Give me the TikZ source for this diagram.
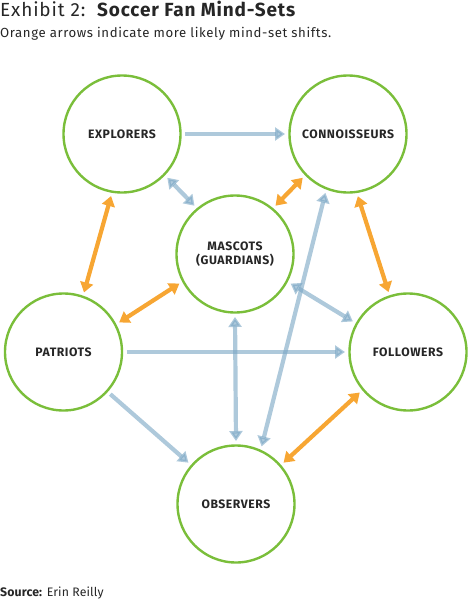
\documentclass[tikz,border=0pt]{standalone}
\usepackage{fontspec}
\setmainfont{Fira Sans}[LetterSpace=4.5]
\newfontfamily\srcfont{Fira Sans}[LetterSpace=1]
\usetikzlibrary{arrows.meta}
\definecolor{ringgreen}{RGB}{122,190,58}
\definecolor{arrblue}{RGB}{120,165,195}
\definecolor{arrorange}{RGB}{247,166,51}
\tikzset{
  mind/.style={circle, draw=ringgreen, line width=2.4pt, minimum size=117pt, inner sep=0pt, outer sep=4.5pt, font=\fontsize{12.2}{14.5}\selectfont\bfseries, text=black!85, align=center},
  bluearr/.style={draw=arrblue, draw opacity=0.6, fill opacity=0.6, line width=4.2pt, -{Triangle[length=10pt,width=13pt,fill=arrblue]}},
  bluedbl/.style={bluearr, {Triangle[length=10pt,width=13pt,fill=arrblue]}-{Triangle[length=10pt,width=13pt,fill=arrblue]}},
  orangedbl/.style={draw=arrorange, line width=4.2pt, {Triangle[length=10pt,width=13pt]}-{Triangle[length=10pt,width=13pt]}},
  titletext/.style={anchor=base west, inner sep=0pt, text=black!85}
}
\begin{document}
\begin{tikzpicture}[x=1pt,y=-1pt]
\useasboundingbox (0,0) rectangle (468,599);
\node[titletext, font=\fontsize{19}{22}\selectfont] (title) at (0,16.7) {Exhibit 2:\ \ \textbf{Soccer Fan Mind-Sets}};
\node[titletext, font=\fontsize{13.2}{16}\selectfont] (sub) at (0,37.7) {Orange arrows indicate more likely mind-set shifts.};
\node[titletext, font=\srcfont\fontsize{12.3}{15}\selectfont] (src) at (0,596.5) {\textbf{Source:} Erin Reilly};

\node[mind] (exp) at (122,134) {EXPLORERS};
\node[mind] (con) at (348,134) {CONNOISSEURS};
\node[mind] (mas) at (235,254) {MASCOTS\\(GUARDIANS)};
\node[mind] (pat) at (63.5,352) {PATRIOTS};
\node[mind] (fol) at (408,352) {FOLLOWERS};
\node[mind] (obs) at (236,504) {OBSERVERS};

% blue arrows
\draw[bluearr] (exp.0) -- (con.180);
\draw[bluedbl] (exp.316) -- (mas.130);
\draw[bluedbl] (mas.332) -- (fol.151);
\draw[bluearr] (pat.0) -- (fol.180);
\draw[bluearr] (pat.318) -- (obs.139.5);
\draw[bluedbl] (mas.270) -- (obs.90);
\draw[bluedbl] (obs.66) -- (con.249.5);

% orange arrows
\draw[orangedbl] (mas.50) -- (con.224);
\draw[orangedbl] (exp.260.5) -- (pat.71.3);
\draw[orangedbl] (con.279.5) -- (fol.108.7);
\draw[orangedbl] (pat.28) -- (mas.208.6);
\draw[orangedbl] (obs.41) -- (fol.220.5);
\end{tikzpicture}
\end{document}
